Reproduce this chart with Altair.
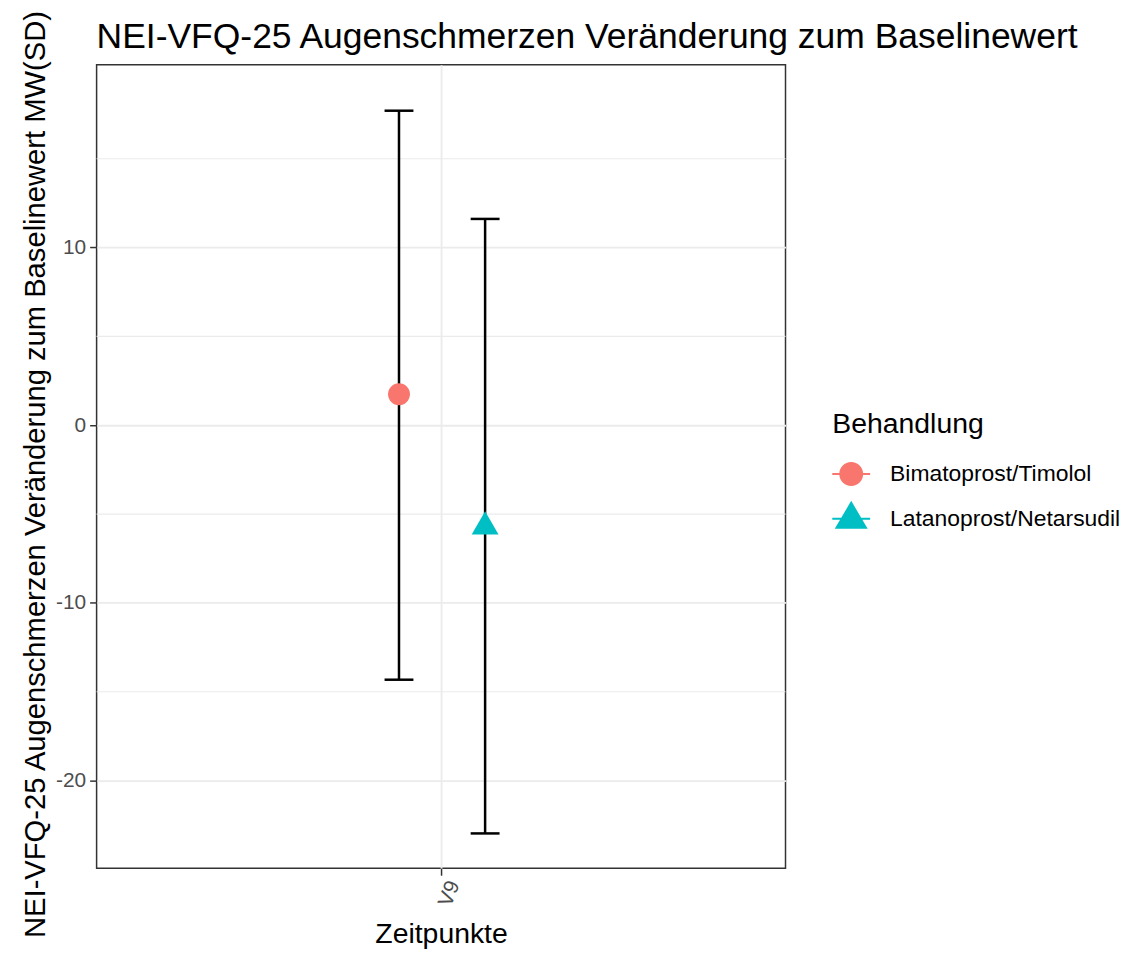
import altair as alt
import pandas as pd

# ---- data ----
zeitpunkte = ["V9"]
behandlung = ["Bimatoprost/Timolol", "Latanoprost/Netarsudil"]
mw = [1.74, -5.49]
untere = [-14.32, -22.97]
obere = [17.70, 11.61]
minor_grid = [-15, -5, 5, 15]
major_ticks = [-20, -10, 0, 10]

# ---- styles ----
farben = ["#F8766D", "#00BFC4"]
formen = ["circle", "triangle-up"]
groessen = [484, 729]
leg_paths = [
    "M0.63,0A0.63,0.63 0 1,1 -0.63,0A0.63,0.63 0 1,1 0.63,0Z M-1,-0.05L1,-0.05L1,0.05L-1,0.05Z",
    "M0,-0.95L0.87,0.53L-0.87,0.53Z M-1,-0.05L1,-0.05L1,0.05L-1,0.05Z",
]
y_domain = [-24.93, 20.28]
dodge_range = [260.5, 433.5]

df = pd.DataFrame({
    "Zeitpunkt": zeitpunkte * len(behandlung),
    "Behandlung": behandlung,
    "MW": mw,
    "unten": untere,
    "oben": obere,
})
grid_df = pd.DataFrame({"g": minor_grid})

ytitle = "NEI-VFQ-25 Augenschmerzen Veränderung zum Baselinewert MW(SD)"
yscale = alt.Scale(domain=y_domain, nice=False, zero=False)
yaxis = alt.Axis(
    title=ytitle, values=major_ticks, grid=True, gridColor="#EBEBEB", gridWidth=1.8,
    domain=False, tickColor="#333333", tickWidth=1.5, tickSize=7,
    labelFontSize=21, labelColor="#4D4D4D", labelPadding=4,
    labelExpr="datum.value < 0 ? '-' + abs(datum.value) : '' + datum.value",
    titleFontSize=29.3, titleFontWeight="normal", titleColor="black",
    titleAngle=270, titleX=-52, titleY=411, titleAlign="center", titleBaseline="alphabetic",
)
xenc = alt.X(
    "Zeitpunkt:N",
    scale=alt.Scale(domain=zeitpunkte, paddingInner=0, paddingOuter=0),
    axis=alt.Axis(
        title="Zeitpunkte", labelAngle=290, labelAlign="right", labelBaseline="middle",
        labelFontSize=21, labelColor="#4D4D4D", labelPadding=6, labelOffset=13,
        tickSize=7, tickColor="#333333", tickWidth=1.5, domain=False,
        grid=True, gridColor="#EBEBEB", gridWidth=1.8,
        titleFontSize=28.5, titleFontWeight="normal", titleColor="black",
        titleY=75, titleBaseline="alphabetic",
    ),
)
xoff = alt.XOffset("Behandlung:N", scale=alt.Scale(domain=behandlung, range=dodge_range, paddingInner=0, paddingOuter=0))

grid = alt.Chart(grid_df).mark_rule(color="#EBEBEB", strokeWidth=1.1).encode(
    y=alt.Y("g:Q", scale=yscale, axis=yaxis)
)

bars = alt.Chart(df).mark_rule(color="black", strokeWidth=2.5).encode(
    x=xenc, xOffset=xoff,
    y=alt.Y("unten:Q", scale=yscale, axis=yaxis), y2="oben:Q",
)

caps = alt.Chart(df).transform_fold(["unten", "oben"], as_=["k", "wert"]).mark_tick(
    color="black", size=29, thickness=2.5, opacity=1
).encode(
    x=xenc, xOffset=xoff, y=alt.Y("wert:Q", scale=yscale, axis=yaxis)
)

pts = alt.Chart(df).mark_point(filled=True, opacity=1, strokeWidth=0).encode(
    x=xenc, xOffset=xoff,
    y=alt.Y("MW:Q", scale=yscale, axis=yaxis),
    color=alt.Color("Behandlung:N", scale=alt.Scale(domain=behandlung, range=farben), legend=None),
    shape=alt.Shape("Behandlung:N", scale=alt.Scale(domain=behandlung, range=formen), legend=None),
    size=alt.Size("Behandlung:O", scale=alt.Scale(domain=behandlung, range=groessen), legend=None),
)

legend = alt.Legend(
    title="Behandlung", orient="none", legendX=739, legendY=346.5,
    titleFontSize=28.5, titleFontWeight="normal", titleColor="black",
    labelFontSize=23, labelColor="black", labelLimit=400, symbolSize=1444, labelOffset=20,
    rowPadding=14, titlePadding=17, padding=0, symbolStrokeWidth=0,
)

leg = alt.Chart(df).transform_filter("false").mark_point(filled=True, opacity=1, size=1444).encode(
    x=xenc, xOffset=xoff,
    y=alt.Y("MW:Q", scale=yscale, axis=yaxis),
    color=alt.Color("Behandlung:N", scale=alt.Scale(domain=behandlung, range=farben), legend=legend),
    shape=alt.Shape("Behandlung:N", scale=alt.Scale(domain=behandlung, range=leg_paths), legend=legend),
)

chart = alt.layer(grid, bars, caps, pts, leg).resolve_scale(
    color="independent", shape="independent"
).properties(
    width=692, height=807,
    title=alt.TitleParams(
        text="NEI-VFQ-25 Augenschmerzen Veränderung zum Baselinewert",
        anchor="start", frame="group", fontSize=35.6, fontWeight="normal",
        color="black", baseline="alphabetic", offset=-74,
    ),
    autosize=alt.AutoSizeParams(type="none"),
    padding={"left": 89, "top": 55, "right": 338, "bottom": 79},
).configure(font="Liberation Sans").configure_view(stroke="#333333", strokeWidth=1.5)

chart.save("out.html", embed_options={"renderer": "svg", "actions": False})
